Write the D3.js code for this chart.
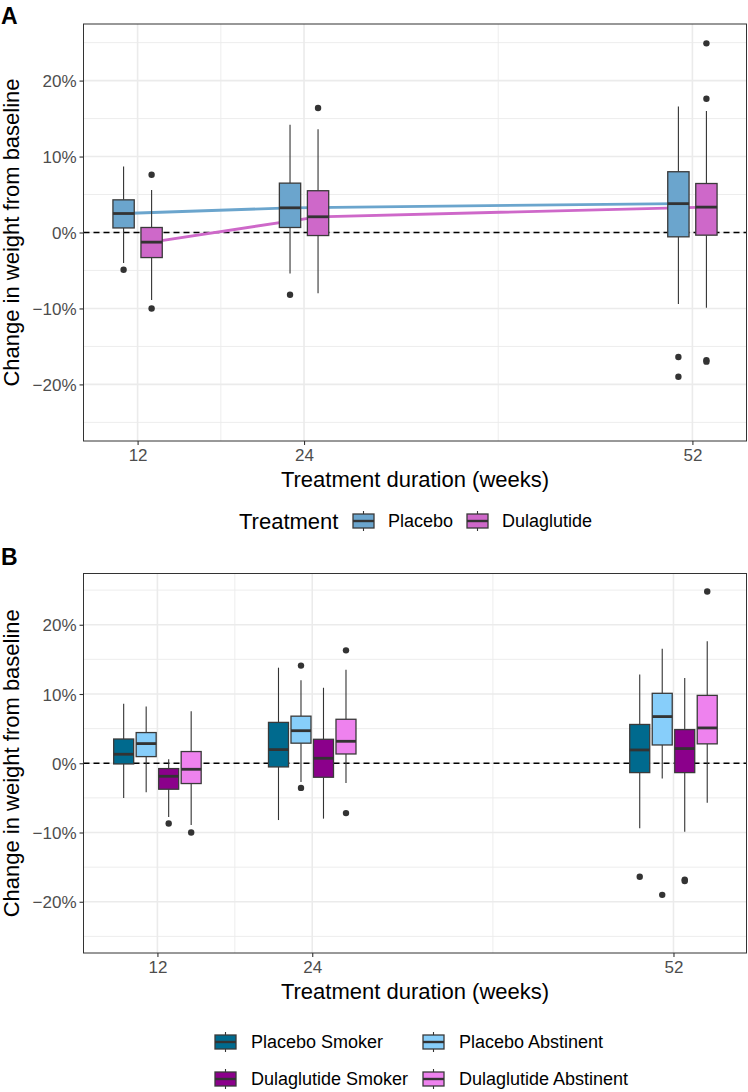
<!DOCTYPE html>
<html><head><meta charset="utf-8">
<script src="https://cdn.jsdelivr.net/npm/d3@7"></script>
<style>body{margin:0;background:#fff}svg{display:block}text{font-family:"Liberation Sans",Arial,Helvetica,sans-serif}</style>
</head><body><svg id="c" width="748" height="1092"></svg>
<script>
// ---------- data ----------
const weeks = [12, 24, 52];
const xTicks = [12, 24, 52];
const xMinor = [18, 38];
const yTicks = [-20, -10, 0, 10, 20];
const yMinor = [-25, -15, -5, 5, 15, 25];

// Panel A: [lowerWhisker, Q1, median, Q3, upperWhisker] per week
const treatments = ["Placebo", "Dulaglutide"];
const placeboStats = [[-4.0, 0.6, 2.5, 4.3, 8.7], [-5.4, 0.66, 3.25, 6.5, 14.2], [-9.4, -0.57, 3.8, 8.0, 16.6]];
const placeboOut = [[-4.9], [-8.2], [-16.4, -19.0]];
const dulaStats = [[-8.9, -3.3, -1.27, 0.66, 5.6], [-8.0, -0.4, 2.07, 5.5, 13.6], [-9.9, -0.35, 3.34, 6.45, 16.0]];
const dulaOut = [[7.6, -10.0], [16.4], [24.9, 17.6, -16.8, -17.0]];

// Panel B
const groups = ["Placebo Smoker", "Placebo Abstinent", "Dulaglutide Smoker", "Dulaglutide Abstinent"];
const psStats = [[-5.0, -0.1, 1.3, 3.5, 8.6], [-8.2, -0.53, 1.97, 5.9, 13.8], [-9.4, -1.35, 1.92, 5.6, 12.8]];
const psOut = [[], [], [-16.4]];
const paStats = [[-4.2, 0.96, 2.84, 4.43, 8.2], [-2.7, 2.9, 4.7, 6.8, 12.0], [-2.2, 2.64, 6.74, 10.1, 16.55]];
const paOut = [[], [14.1, -3.56], [-19.0]];
const dsStats = [[-7.75, -3.75, -1.88, -0.77, 0.58], [-8.0, -2.02, 0.72, 3.46, 10.9], [-9.9, -1.35, 2.12, 4.86, 12.3]];
const dsOut = [[-8.7], [], [-16.8, -17.0]];
const daStats = [[-8.9, -2.93, -0.87, 1.69, 7.5], [-2.84, 1.34, 3.17, 6.35, 13.5], [-5.7, 2.8, 5.1, 9.8, 17.6]];
const daOut = [[-10.0], [16.3, -7.2], [24.8]];

const colA = ["#6BA5CD", "#CE68C9"];
const colB = ["#006A8E", "#87CEFA", "#8B008B", "#EE82EE"];

// ---------- drawing ----------
const svg = d3.select("#c");
svg.append("rect").attr("width", 748).attr("height", 1092).attr("fill", "#fff");
const L = 83.5, R = 746.5;
const fmt = v => (v < 0 ? "\u2212" + Math.abs(v) : v) + "%";

function panel(cfg) {
  const g = svg.append("g");
  const x = d3.scaleLinear().domain(cfg.xDom).range([L, R]);
  const y = d3.scaleLinear().domain(cfg.yDom).range([cfg.bottom, cfg.top]);
  g.append("rect").attr("x", L).attr("y", cfg.top).attr("width", R - L).attr("height", cfg.bottom - cfg.top).attr("fill", "#fff");
  // grid
  g.selectAll(".ymn").data(yMinor).join("line").attr("x1", L).attr("x2", R).attr("y1", d => y(d)).attr("y2", d => y(d)).attr("stroke", "#EBEBEB").attr("stroke-width", 0.9);
  g.selectAll(".xmn").data(xMinor).join("line").attr("y1", cfg.top).attr("y2", cfg.bottom).attr("x1", d => x(d)).attr("x2", d => x(d)).attr("stroke", "#EBEBEB").attr("stroke-width", 0.9);
  g.selectAll(".ymj").data(yTicks).join("line").attr("x1", L).attr("x2", R).attr("y1", d => y(d)).attr("y2", d => y(d)).attr("stroke", "#EBEBEB").attr("stroke-width", 1.6);
  g.selectAll(".xmj").data(xTicks).join("line").attr("y1", cfg.top).attr("y2", cfg.bottom).attr("x1", d => x(d)).attr("x2", d => x(d)).attr("stroke", "#EBEBEB").attr("stroke-width", 1.6);
  // zero line
  g.append("line").attr("x1", L).attr("x2", R).attr("y1", y(0)).attr("y2", y(0)).attr("stroke", "#000").attr("stroke-width", 1.3).attr("stroke-dasharray", "6,4");
  // median lines (panel A)
  if (cfg.lines) {
    cfg.series.forEach(s => {
      const line = d3.line().x((d, i) => x(weeks[i] + s.offset)).y(d => y(d[2]));
      g.append("path").attr("d", line(s.stats)).attr("fill", "none").attr("stroke", s.color).attr("stroke-width", 2.8);
    });
  }
  // boxes
  const hw = cfg.boxW / 2;
  cfg.series.forEach(s => {
    s.stats.forEach((st, i) => {
      const cx = x(weeks[i] + s.offset);
      const x0 = x(weeks[i] + s.offset - hw), x1 = x(weeks[i] + s.offset + hw);
      g.append("line").attr("x1", cx).attr("x2", cx).attr("y1", y(st[4])).attr("y2", y(st[3])).attr("stroke", "#333").attr("stroke-width", 1.1);
      g.append("line").attr("x1", cx).attr("x2", cx).attr("y1", y(st[1])).attr("y2", y(st[0])).attr("stroke", "#333").attr("stroke-width", 1.1);
      g.append("rect").attr("x", x0).attr("width", x1 - x0).attr("y", y(st[3])).attr("height", y(st[1]) - y(st[3]))
        .attr("fill", s.color).attr("stroke", "#3a3a3a").attr("stroke-width", 1.3);
      g.append("line").attr("x1", x0).attr("x2", x1).attr("y1", y(st[2])).attr("y2", y(st[2])).attr("stroke", "#333").attr("stroke-width", 2.8);
      g.selectAll(null).data(s.out[i]).join("circle").attr("cx", cx).attr("cy", d => y(d)).attr("r", 3.2).attr("fill", "#333");
    });
  });
  // border
  g.append("rect").attr("x", L).attr("y", cfg.top).attr("width", R - L).attr("height", cfg.bottom - cfg.top).attr("fill", "none").attr("stroke", "#333").attr("stroke-width", 1);
  // axes
  const ya = g.append("g").attr("transform", `translate(${L},0)`).call(d3.axisLeft(y).tickValues(yTicks).tickFormat(fmt).tickSize(4).tickPadding(3));
  const xa = g.append("g").attr("transform", `translate(0,${cfg.bottom})`).call(d3.axisBottom(x).tickValues(xTicks).tickSize(4).tickPadding(4));
  [ya, xa].forEach(a => {
    a.select(".domain").remove();
    a.selectAll(".tick line").attr("stroke", "#333").attr("stroke-width", 1.1);
    a.selectAll(".tick text").attr("fill", "#4D4D4D").style("font-size", "17px").style("font-family", '"Liberation Sans",Arial,sans-serif');
  });
  ya.selectAll(".tick text").attr("dy", "0.36em");
  // titles
  g.append("text").attr("x", (L + R) / 2).attr("y", cfg.bottom + 46).attr("text-anchor", "middle").style("font-size", "22px").text("Treatment duration (weeks)");
  g.append("text").attr("transform", `translate(18.5,${(cfg.top + cfg.bottom) / 2}) rotate(-90)`).attr("text-anchor", "middle").style("font-size", "22px").text("Change in weight from baseline");
  g.append("text").attr("x", 1).attr("y", cfg.top - (cfg.label === "A" ? 0 : 8.5)).style("font-size", "23px").style("font-weight", "bold").text(cfg.label);
  return { x, y };
}

panel({
  label: "A", top: 24, bottom: 441, xDom: [8.1, 55.9], yDom: [-27.45, 27.45], boxW: 1.536, lines: true,
  series: [
    { color: colA[0], offset: -1.01, stats: placeboStats, out: placeboOut },
    { color: colA[1], offset: 1.01, stats: dulaStats, out: dulaOut }
  ]
});
panel({
  label: "B", top: 573.5, bottom: 953, xDom: [6.27, 57.66], yDom: [-27.4, 27.4], boxW: 1.55, lines: false,
  series: [
    { color: colB[0], offset: -2.616, stats: psStats, out: psOut },
    { color: colB[1], offset: -0.872, stats: paStats, out: paOut },
    { color: colB[2], offset: 0.872, stats: dsStats, out: dsOut },
    { color: colB[3], offset: 2.616, stats: daStats, out: daOut }
  ]
});

// ---------- legends ----------
function key(x0, cy, color) {
  const g = svg.append("g");
  g.append("line").attr("x1", x0 + 10.5).attr("x2", x0 + 10.5).attr("y1", cy - 10).attr("y2", cy + 10).attr("stroke", "#333").attr("stroke-width", 1.1);
  g.append("rect").attr("x", x0).attr("y", cy - 7).attr("width", 21).attr("height", 14).attr("fill", color).attr("stroke", "#3a3a3a").attr("stroke-width", 1.3);
  g.append("line").attr("x1", x0).attr("x2", x0 + 21).attr("y1", cy).attr("y2", cy).attr("stroke", "#333").attr("stroke-width", 2.4);
}
function ltext(x0, cy, t, size) {
  svg.append("text").attr("x", x0).attr("y", cy).attr("dy", "0.36em").style("font-size", size).text(t);
}
// Legend A
const legAy = 521;
ltext(239, legAy, "Treatment", "22px");
const legAx = [353, 467];
treatments.forEach((t, i) => { key(legAx[i], legAy, colA[i]); ltext(legAx[i] + 35, legAy, t, "18px"); });
// Legend B
const legBx = [215, 423], legBy = [1042, 1079];
groups.forEach((t, i) => {
  const col = i % 2, row = Math.floor(i / 2);
  key(legBx[col], legBy[row], colB[i]);
  ltext(legBx[col] + 36, legBy[row], t, "18px");
});
</script></body></html>
